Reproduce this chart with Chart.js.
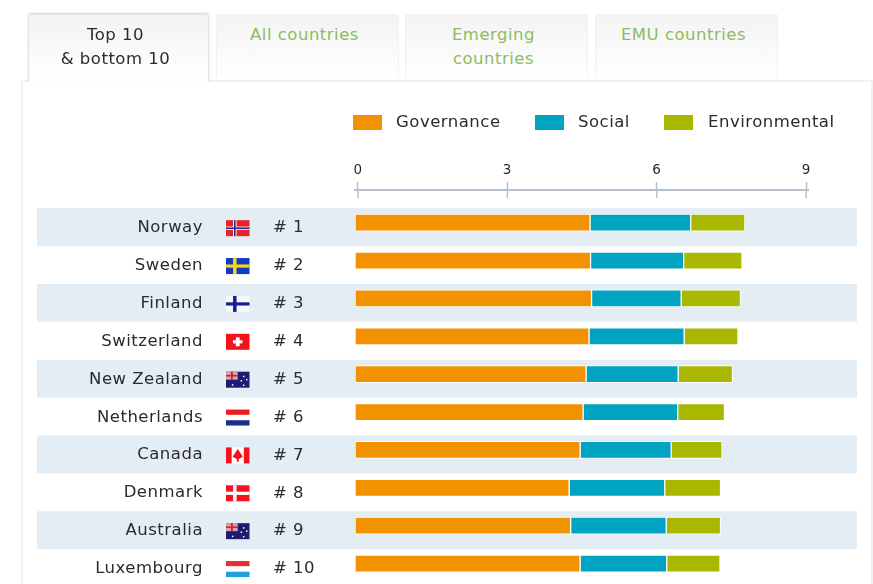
<!DOCTYPE html>
<html>
<head>
<meta charset="utf-8">
<title>ESG ranking</title>
<script src="https://cdn.jsdelivr.net/npm/chart.js@4/dist/chart.umd.min.js"></script>
<style>
  html, body { margin: 0; padding: 0; background: #fff; overflow: hidden; }
  body { width: 873px; height: 584px; position: relative; font-family: "DejaVu Sans", sans-serif; }
  .tab {
    position: absolute; top: 14px; height: 64px; box-sizing: border-box;
    padding: 8px 6px 0 0; text-align: center; font-size: 16.5px; letter-spacing: 0.5px;
    line-height: 24px; color: #8fbb5c;
    background: linear-gradient(#f3f3f3, #fff);
    border: 1px solid #f1f1f1; border-bottom: 0; border-radius: 3px 3px 0 0;
  }
  .tab.active {
    left: 28px; width: 181px; height: 68px; color: #2b2b2b; z-index: 3;
    border: 1px solid #e3e3e3; border-bottom: 0; box-shadow: 0 -1px 2px #d8d8d8;
  }
  #panel {
    position: absolute; left: 21px; top: 80px; width: 852px; height: 520px; box-sizing: border-box;
    border: 2px solid #eff1f3; background: #fff;
  }
  #chart { position: absolute; left: 0; top: 0; z-index: 2; }
  .legend-box { position: absolute; top: 115px; width: 29px; height: 15px; z-index: 4; }
  .legend-text {
    position: absolute; top: 111px; font-size: 16.5px; letter-spacing: 0.5px;
    line-height: 22px; color: #2b2b2b; z-index: 4;
  }
</style>
</head>
<body>
<div class="tab active">Top 10<br>&amp; bottom 10</div>
<div class="tab" style="left:216px;width:183px">All countries</div>
<div class="tab" style="left:405px;width:183px">Emerging<br>countries</div>
<div class="tab" style="left:595px;width:183px">EMU countries</div>
<div id="panel"></div>

<div id="legend"></div>
<canvas id="chart" width="873" height="584"></canvas>

<script>
const countries = ["Norway", "Sweden", "Finland", "Switzerland", "New Zealand",
  "Netherlands", "Canada", "Denmark", "Australia", "Luxembourg"];
const ranks = [1, 2, 3, 4, 5, 6, 7, 8, 9, 10];

const governance = [4.72, 4.73, 4.75, 4.70, 4.64, 4.58, 4.52, 4.30, 4.33, 4.52];
const social = [2.02, 1.87, 1.80, 1.91, 1.85, 1.90, 1.83, 1.92, 1.92, 1.74];
const environmental = [1.09, 1.17, 1.19, 1.08, 1.09, 0.94, 1.02, 1.12, 1.09, 1.07];

const axisTicks = [0, 3, 6, 9];

const seriesNames = ["Governance", "Social", "Environmental"];
const seriesColors = ["#f39200", "#00a3c0", "#aab700"];
const legendBoxX = [353, 535, 664];
const legendTextX = [396, 578, 708];

const FONT = '"DejaVu Sans", sans-serif';
const TEXT_COLOR = "#2b2b2b";
const AXIS_COLOR = "#b4c0cc";
const BAND_COLOR = "#e4ecf4";
const LABEL_SHIFT = 4.5;   // labels and bands sit a bit lower than the bars

// legend is plain html, chart.js cannot space it like this
const legend = document.getElementById("legend");
seriesNames.forEach((name, i) => {
  legend.insertAdjacentHTML("beforeend",
    `<div class="legend-box" style="left:${legendBoxX[i]}px;background:${seriesColors[i]}"></div>` +
    `<div class="legend-text" style="left:${legendTextX[i]}px">${name}</div>`);
});

function toXY(arr) {
  return arr.map((value, i) => ({ x: value, y: i }));
}

// flags, drawn in a w x h box
function stripesH(ctx, x, y, w, h, colors) {
  colors.forEach((c, i) => {
    ctx.fillStyle = c;
    ctx.fillRect(x, y + i * h / colors.length, w, h / colors.length);
  });
}

function nordic(ctx, x, y, w, h, bg, cross, inner) {
  ctx.fillStyle = bg;
  ctx.fillRect(x, y, w, h);
  ctx.fillStyle = cross;
  ctx.fillRect(x + w * 0.3, y, w * 0.15, h);
  ctx.fillRect(x, y + h * 0.4, w, h * 0.2);
  if (inner) {
    ctx.fillStyle = inner;
    ctx.fillRect(x + w * 0.34, y, w * 0.07, h);
    ctx.fillRect(x, y + h * 0.45, w, h * 0.1);
  }
}

function unionJack(ctx, x, y, w, h) {
  ctx.fillStyle = "#1c1c70";
  ctx.fillRect(x, y, w, h);
  ctx.fillStyle = "#d8a0b0";
  ctx.fillRect(x, y, w * 0.5, h * 0.5);
  ctx.fillStyle = "#d8202c";
  ctx.fillRect(x + w * 0.21, y, w * 0.08, h * 0.5);
  ctx.fillRect(x, y + h * 0.2, w * 0.5, h * 0.1);
  ctx.fillStyle = "#fff";
  [[0.72, 0.25], [0.62, 0.52], [0.85, 0.45], [0.72, 0.8], [0.25, 0.78]].forEach(p => {
    ctx.fillRect(x + w * p[0], y + h * p[1], 1.5, 1.5);
  });
}

const flagPainters = {
  "Norway": (c, x, y, w, h) => nordic(c, x, y, w, h, "#e8202c", "#fff", "#1c2f8f"),
  "Sweden": (c, x, y, w, h) => nordic(c, x, y, w, h, "#1338c4", "#f6d90f"),
  "Finland": (c, x, y, w, h) => nordic(c, x, y, w, h, "#f6f8fc", "#141e96"),
  "Switzerland": (c, x, y, w, h) => {
    c.fillStyle = "#f4121c";
    c.fillRect(x, y, w, h);
    c.fillStyle = "#fff";
    c.fillRect(x + w * 0.42, y + h * 0.22, w * 0.16, h * 0.56);
    c.fillRect(x + w * 0.3, y + h * 0.4, w * 0.4, h * 0.2);
  },
  "New Zealand": unionJack,
  "Netherlands": (c, x, y, w, h) => stripesH(c, x, y, w, h, ["#ee1c25", "#fff", "#1c2f8f"]),
  "Canada": (c, x, y, w, h) => {
    c.fillStyle = "#fff";
    c.fillRect(x, y, w, h);
    c.fillStyle = "#f4121c";
    c.fillRect(x, y, w * 0.24, h);
    c.fillRect(x + w * 0.76, y, w * 0.24, h);
    c.beginPath();
    c.moveTo(x + w * 0.5, y + h * 0.1);
    c.lineTo(x + w * 0.72, y + h * 0.58);
    c.lineTo(x + w * 0.54, y + h * 0.72);
    c.lineTo(x + w * 0.54, y + h * 0.9);
    c.lineTo(x + w * 0.46, y + h * 0.9);
    c.lineTo(x + w * 0.46, y + h * 0.72);
    c.lineTo(x + w * 0.28, y + h * 0.58);
    c.closePath();
    c.fill();
  },
  "Denmark": (c, x, y, w, h) => nordic(c, x, y, w, h, "#f4121c", "#fff"),
  "Australia": unionJack,
  "Luxembourg": (c, x, y, w, h) => stripesH(c, x, y, w, h, ["#ee2a35", "#fff", "#1f9fdc"])
};

const rowDecor = {
  id: "rowDecor",
  beforeDraw(chart) {
    const ctx = chart.ctx;
    const y = chart.scales.y;
    const rowH = y.getPixelForValue(1) - y.getPixelForValue(0);
    ctx.letterSpacing = "0.5px";
    // bands go under the axis labels, so this has to run before the scales draw
    ctx.save();
    ctx.fillStyle = BAND_COLOR;
    countries.forEach((name, i) => {
      if (i % 2 === 0) {
        ctx.fillRect(37, y.getPixelForValue(i) + LABEL_SHIFT - rowH / 2, 820, rowH);
      }
    });
    ctx.restore();
  },
  afterDraw(chart) {
    const ctx = chart.ctx;
    const y = chart.scales.y;
    const top = chart.scales.xTop;
    ctx.save();

    // ticks go through the axis line, chart.js only draws the upper half
    ctx.strokeStyle = AXIS_COLOR;
    ctx.lineWidth = 1.5;
    top.ticks.forEach(t => {
      const px = top.getPixelForValue(t.value);
      ctx.beginPath();
      ctx.moveTo(px, top.bottom);
      ctx.lineTo(px, top.bottom + 8);
      ctx.stroke();
    });

    ctx.font = "16.5px " + FONT;
    ctx.textBaseline = "middle";
    countries.forEach((name, i) => {
      const cy = y.getPixelForValue(i) + LABEL_SHIFT + 1;
      flagPainters[name](ctx, 226, cy - 8, 23.5, 16);
      ctx.fillStyle = TEXT_COLOR;
      ctx.fillText("# " + ranks[i], 273, cy);
    });
    ctx.restore();
  }
};

new Chart(document.getElementById("chart"), {
  type: "bar",
  data: {
    datasets: seriesNames.map((name, i) => ({
      label: name,
      data: toXY([governance, social, environmental][i]),
      backgroundColor: seriesColors[i],
      borderColor: "#fff",
      borderWidth: 1,
      borderSkipped: false,
      barThickness: 17,
      xAxisID: "x",
      yAxisID: "y"
    }))
  },
  plugins: [rowDecor],
  options: {
    indexAxis: "y",
    responsive: false,
    animation: false,
    events: [],
    layout: { padding: { left: 0, right: 65, top: 0, bottom: 0 } },
    plugins: { legend: { display: false }, tooltip: { enabled: false } },
    scales: {
      // bars start 2px left of the zero tick in the original, hence two x axes
      x: { type: "linear", stacked: true, display: false, bounds: "data", min: 0, max: 9.096 },
      xTop: {
        type: "linear",
        axis: "x",
        position: "top",
        bounds: "data",
        min: -0.06,
        max: 9.036,
        afterFit: s => { s.height = 190; },
        afterBuildTicks: s => { s.ticks = axisTicks.map(v => ({ value: v })); },
        ticks: {
          color: TEXT_COLOR,
          padding: 3,
          font: { family: FONT, size: 13.5 }
        },
        border: { color: AXIS_COLOR, width: 2 },
        grid: { drawOnChartArea: false, tickLength: 8, tickWidth: 1.5, tickColor: AXIS_COLOR }
      },
      y: {
        type: "linear",
        stacked: true,
        reverse: true,
        offset: false,
        bounds: "data",
        min: -0.863,
        max: 9.54,
        afterFit: s => { s.width = 355; s.paddingTop = 0; s.paddingBottom = 0; },
        afterBuildTicks: s => { s.ticks = countries.map((name, i) => ({ value: i })); },
        border: { display: false },
        // long invisible tick marks push the labels out to the left column;
        // ticks.padding would also eat into the chart height
        grid: { drawOnChartArea: false, tickLength: 152, tickColor: "transparent" },
        ticks: {
          autoSkip: false,
          labelOffset: LABEL_SHIFT + 0.7,
          padding: 0,
          color: TEXT_COLOR,
          font: { family: FONT, size: 16.5 },
          callback: v => countries[v]
        }
      }
    }
  }
});
</script>
</body>
</html>
